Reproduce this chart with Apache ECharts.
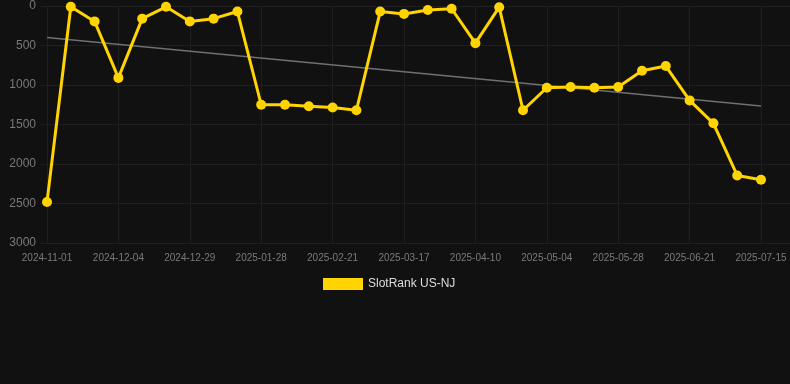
<!DOCTYPE html>
<html>
<head>
<meta charset="utf-8">
<script src="https://cdn.jsdelivr.net/npm/echarts@6/dist/echarts.min.js"></script>
<style>
  html, body { margin: 0; padding: 0; background: #111111; }
  #chart { width: 790px; height: 384px; }
</style>
</head>
<body>
<div id="chart"></div>
<script>
const dates = [
  '2024-11-01', '2024-11-12', '2024-11-23', '2024-12-04', '2024-12-12', '2024-12-20',
  '2024-12-29', '2025-01-08', '2025-01-18', '2025-01-28', '2025-02-05', '2025-02-13',
  '2025-02-21', '2025-03-01', '2025-03-09', '2025-03-17', '2025-03-25', '2025-04-02',
  '2025-04-10', '2025-04-18', '2025-04-26', '2025-05-04', '2025-05-12', '2025-05-20',
  '2025-05-28', '2025-06-05', '2025-06-13', '2025-06-21', '2025-06-29', '2025-07-07',
  '2025-07-15'
];

const ranks = [
  2480, 10, 195, 910, 160, 10, 195, 160, 70, 1250, 1250, 1270,
  1285, 1320, 70, 100, 50, 35, 470, 15, 1320, 1035, 1025, 1035,
  1025, 820, 760, 1195, 1485, 2145, 2200
];

// trend line end points
const trendline = [400, 1265];

const yTicks = { min: 0, max: 3000, step: 500 };

const gold = '#ffd400';
const gridColor = '#1f1f1f';
const labelColor = '#7a7a7a';

const chart = echarts.init(document.getElementById('chart'));

chart.setOption({
  animation: false,
  backgroundColor: '#111111',
  textStyle: { fontFamily: 'Liberation Sans, Arial, sans-serif' },
  grid: [
    { left: 40, right: 0, top: 6, bottom: 141 },
    { left: 47, right: 29, top: 6, bottom: 141 }
  ],
  legend: {
    data: ['SlotRank US-NJ'],
    top: 273,
    left: 318,
    icon: 'rect',
    itemWidth: 40,
    itemHeight: 12,
    itemGap: 10,
    textStyle: { color: '#dddddd', fontSize: 12 }
  },
  xAxis: [
    { gridIndex: 0, type: 'value', min: 0, max: 1, show: false },
    {
      gridIndex: 1,
      type: 'category',
      data: dates,
      boundaryGap: false,
      axisLine: { show: false },
      axisTick: { show: true, interval: 2, length: 4, lineStyle: { color: gridColor } },
      axisLabel: { interval: 2, color: labelColor, fontSize: 10, margin: 10 },
      splitLine: { show: true, interval: 2, lineStyle: { color: gridColor, width: 1 } }
    }
  ],
  yAxis: [
    {
      gridIndex: 0,
      type: 'value',
      inverse: true,
      min: yTicks.min,
      max: yTicks.max,
      interval: yTicks.step,
      axisLine: { show: false },
      axisTick: { show: false },
      axisLabel: { color: labelColor, fontSize: 12, margin: 4, formatter: v => String(v) },
      splitLine: { show: true, lineStyle: { color: gridColor, width: 1 } }
    },
    {
      gridIndex: 1,
      type: 'value',
      inverse: true,
      min: yTicks.min,
      max: yTicks.max,
      interval: yTicks.step,
      show: false,
      splitLine: { show: false }
    }
  ],
  series: [
    {
      name: 'Trend',
      type: 'line',
      xAxisIndex: 1,
      yAxisIndex: 1,
      data: [[dates[0], trendline[0]], [dates[dates.length - 1], trendline[1]]],
      showSymbol: false,
      silent: true,
      lineStyle: { color: '#707070', width: 1.5 },
      z: 1
    },
    {
      name: 'SlotRank US-NJ',
      type: 'line',
      xAxisIndex: 1,
      yAxisIndex: 1,
      data: ranks,
      symbol: 'circle',
      symbolSize: 10,
      itemStyle: { color: gold },
      lineStyle: { color: gold, width: 3 },
      z: 3
    }
  ]
});
</script>
</body>
</html>
